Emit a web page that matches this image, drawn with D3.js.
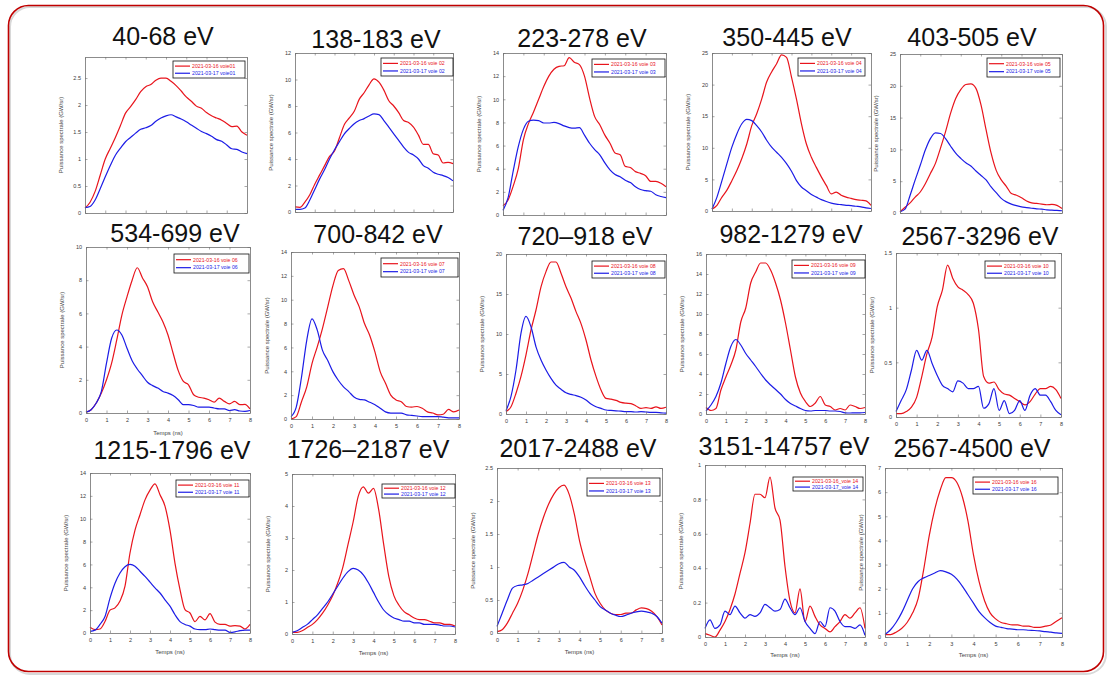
<!DOCTYPE html>
<html>
<head>
<meta charset="utf-8">
<script src="https://cdn.jsdelivr.net/npm/d3@7"></script>
<style>
  body { margin: 0; background: #fff; }
  svg { display: block; }
</style>
</head>
<body>
<div id="chart"></div>
<script>
// time grid (ns), shared by every channel
var times = [0, 0.25, 0.5, 0.75, 1, 1.25, 1.5, 1.75, 2, 2.25, 2.5, 2.75, 3, 3.25, 3.5, 3.75,
             4, 4.25, 4.5, 4.75, 5, 5.25, 5.5, 5.75, 6, 6.25, 6.5, 6.75, 7, 7.25, 7.5, 7.75, 8];
var xTicks = [0, 1, 2, 3, 4, 5, 6, 7, 8];

var titles = ['40-68 eV', '138-183 eV', '223-278 eV', '350-445 eV', '403-505 eV',
              '534-699 eV', '700-842 eV', '720\u2013918 eV', '982-1279 eV', '2567-3296 eV',
              '1215-1796 eV', '1726\u20132187 eV', '2017-2488 eV', '3151-14757 eV', '2567-4500 eV'];
var voies = ['voie01', 'voie 02', 'voie 03', 'voie 04', 'voie 05', 'voie 06', 'voie 07', 'voie 08',
             'voie 09', 'voie 10', 'voie 11', 'voie 12', 'voie 13', '_voie 14', 'voie 16'];
var dates = ['2021-03-16', '2021-03-17'];
var yMax = [2.89, 12, 14, 25, 25, 10, 14, 20, 16, 1.5, 14, 5, 2.5, 1, 7];
var yStep = [0.5, 2, 2, 5, 5, 2, 2, 5, 2, 0.5, 2, 1, 0.5, 0.2, 1];

// 2021-03-16 (red) and 2021-03-17 (blue), GW/sr
var red01 = [0.09,0.2,0.4,0.7,1.0,1.2,1.4,1.62,1.85,1.97,2.1,2.25,2.34,2.38,2.46,2.5,2.5,2.44,2.36,2.26,2.15,2.07,1.98,1.94,1.86,1.8,1.76,1.72,1.66,1.6,1.61,1.5,1.44];
var blue01 = [0.1,0.12,0.24,0.45,0.67,0.88,1.07,1.2,1.32,1.4,1.48,1.55,1.58,1.62,1.7,1.76,1.8,1.82,1.78,1.74,1.69,1.63,1.57,1.51,1.47,1.42,1.36,1.33,1.26,1.19,1.18,1.13,1.1];
var red02 = [0.38,0.35,0.75,1.3,2.1,2.8,3.5,4.2,4.6,5.6,6.6,7.1,7.6,8.5,9.0,9.6,10.05,9.8,9.2,8.4,8.0,7.5,6.9,6.75,6.4,5.8,5.1,5.1,4.4,4.3,3.7,3.75,3.65];
var blue02 = [0.2,0.2,0.3,0.9,1.7,2.5,3.2,4.0,4.7,5.3,5.9,6.3,6.66,6.9,7.05,7.25,7.4,7.35,6.9,6.4,5.9,5.4,4.9,4.5,4.3,4.0,3.5,3.3,3.0,2.85,2.75,2.6,2.35];
var red03 = [0.8,1.3,2.5,4.0,6.5,7.9,8.9,10.0,11.1,12.0,12.6,12.85,12.9,13.6,13.2,13.0,12.0,10.1,8.5,7.8,6.9,6.2,5.35,5.2,4.2,4.1,3.75,3.6,3.4,2.9,2.9,2.75,2.45];
var blue03 = [0.4,1.5,3.8,5.9,7.4,8.1,8.2,8.15,7.95,7.95,8.0,7.9,7.7,7.55,7.5,7.55,6.9,6.2,5.65,5.2,4.5,3.9,3.5,3.3,3.0,2.8,2.45,2.2,2.1,2.05,1.75,1.6,1.5];
var red04 = [0.3,0.9,2.2,3.3,4.8,6.4,8.3,10.6,13.5,15.4,17.7,20.4,22.0,23.3,24.7,24.3,21.2,17.7,13.8,10.6,8.5,6.9,5.4,4.05,2.7,3.0,2.5,2.2,2.0,1.8,1.7,1.6,0.9];
var blue04 = [0.3,2.2,4.8,7.5,10.1,12.2,13.8,14.5,14.3,13.5,12.5,11.2,10.1,9.3,8.5,7.5,6.3,4.8,3.8,3.2,2.6,2.2,1.8,1.5,1.25,1.1,1.0,0.9,0.85,0.75,0.65,0.5,0.4];
var red05 = [0.2,0.9,1.6,2.5,3.3,4.6,6.2,7.8,10.2,12.8,15.7,18.0,19.4,20.2,20.3,19.6,17.0,13.1,9.4,6.7,5.2,4.2,3.05,2.8,2.4,1.9,1.6,1.5,1.4,1.3,1.35,1.2,0.7];
var blue05 = [0.2,0.6,2.8,5.2,7.5,9.9,11.7,12.6,12.5,11.7,10.5,9.4,8.6,7.9,7.4,6.6,5.9,5.2,4.1,3.2,2.3,1.75,1.4,1.15,0.95,0.85,0.75,0.65,0.6,0.5,0.45,0.4,0.35];
var red06 = [0.05,0.2,0.6,1.2,2.0,3.0,4.4,5.9,7.0,8.0,8.75,8.15,7.6,6.7,6.1,5.5,4.7,3.6,2.55,1.9,1.7,1.1,0.95,0.9,0.8,0.65,0.9,0.7,0.55,0.7,0.5,0.52,0.25];
var blue06 = [0.05,0.2,0.6,1.3,3.0,4.5,5.0,4.7,3.9,3.15,2.65,2.25,1.85,1.65,1.5,1.3,1.2,1.05,0.8,0.5,0.5,0.45,0.35,0.35,0.35,0.3,0.25,0.25,0.15,0.2,0.12,0.1,0.15];
var red07 = [0.0,0.2,1.45,2.7,4.65,6.05,7.6,9.4,11.2,12.45,12.6,11.6,10.4,9.4,8.0,7.0,5.6,3.95,3.0,2.0,1.6,1.45,1.05,1.0,1.05,0.9,0.6,0.5,0.35,0.4,0.8,0.6,0.75];
var blue07 = [0.2,1.0,3.5,6.6,8.4,7.45,5.75,4.9,3.95,3.25,2.7,2.3,1.85,1.65,1.6,1.4,1.2,0.9,0.6,0.5,0.5,0.5,0.35,0.3,0.25,0.2,0.2,0.2,0.2,0.15,0.1,0.1,0.1];
var red08 = [0.3,0.9,2.6,4.7,7.4,10.5,13.0,15.9,17.8,19.0,19.0,17.6,15.9,14.5,12.8,11.3,9.25,6.75,4.7,3.0,1.95,1.85,1.7,1.45,1.35,1.3,1.0,0.7,0.8,0.7,0.9,0.7,0.85];
var blue08 = [0.4,2.2,5.5,10.1,12.2,10.9,8.4,6.75,5.5,4.45,3.6,3.1,2.65,2.45,2.3,2.1,1.75,1.25,0.9,0.7,0.5,0.45,0.4,0.35,0.3,0.3,0.25,0.3,0.25,0.2,0.2,0.15,0.1];
var red09 = [0.65,0.35,0.55,2.4,3.7,4.9,6.4,9.2,10.6,13.1,14.2,15.1,15.1,14.4,13.1,11.4,9.1,6.4,3.7,2.1,1.25,0.75,1.1,1.75,0.9,0.75,0.4,0.55,0.4,0.9,0.75,0.55,0.65];
var blue09 = [0.3,0.9,1.75,3.1,5.05,6.75,7.45,6.9,6.05,5.4,4.75,4.05,3.4,2.9,2.45,2.0,1.45,1.05,0.8,0.55,0.35,0.3,0.35,0.35,0.35,0.3,0.3,0.25,0.12,0.1,0.12,0.12,0.15];
var red10 = [0.03,0.03,0.05,0.09,0.18,0.37,0.58,0.73,1.01,1.16,1.39,1.27,1.19,1.16,1.12,1.04,0.8,0.37,0.31,0.32,0.25,0.21,0.2,0.17,0.14,0.11,0.14,0.21,0.26,0.26,0.28,0.25,0.17];
var blue10 = [0.05,0.15,0.25,0.43,0.61,0.52,0.61,0.49,0.38,0.29,0.26,0.23,0.33,0.31,0.26,0.26,0.28,0.08,0.12,0.26,0.06,0.15,0.03,0.06,0.15,0.06,0.2,0.26,0.2,0.2,0.14,0.06,0.02];
var red11 = [0.5,0.3,0.35,1.0,2.0,2.2,2.8,4.1,7.0,9.0,10.35,11.65,12.5,13.05,12.1,11.1,9.0,6.1,3.8,2.05,1.75,1.0,1.45,1.15,1.7,0.95,0.75,0.75,0.6,0.65,0.6,0.35,0.75];
var blue11 = [0.15,0.25,0.75,1.45,3.05,4.35,5.25,5.8,6.0,5.85,5.4,4.95,4.45,3.95,3.5,2.9,2.35,1.6,1.0,0.75,0.6,0.35,0.3,0.3,0.35,0.3,0.25,0.25,0.05,0.1,0.2,0.25,0.25];
var red12 = [0.05,0.05,0.1,0.2,0.3,0.45,0.65,0.9,1.2,1.6,2.1,2.8,3.5,4.3,4.6,4.4,4.55,3.9,2.8,1.8,1.2,0.9,0.7,0.6,0.5,0.45,0.45,0.4,0.35,0.35,0.3,0.3,0.25];
var blue12 = [0.05,0.1,0.2,0.3,0.45,0.6,0.8,1.0,1.25,1.5,1.75,1.95,2.05,2.0,1.85,1.6,1.3,1.0,0.75,0.6,0.5,0.45,0.4,0.4,0.35,0.35,0.3,0.3,0.3,0.28,0.25,0.25,0.22];
var red13 = [0.02,0.05,0.15,0.3,0.45,0.65,0.9,1.2,1.5,1.75,1.95,2.1,2.2,2.24,2.1,1.8,1.4,1.1,0.85,0.6,0.45,0.35,0.3,0.28,0.28,0.3,0.3,0.35,0.38,0.37,0.33,0.25,0.12];
var blue13 = [0.1,0.3,0.5,0.68,0.72,0.73,0.75,0.8,0.85,0.9,0.95,1.0,1.05,1.07,1.0,0.95,0.85,0.72,0.6,0.5,0.4,0.35,0.3,0.27,0.25,0.27,0.3,0.32,0.33,0.32,0.3,0.25,0.15];
var red14 = [0.02,0.01,0.0,0.04,0.09,0.16,0.25,0.37,0.49,0.66,0.83,0.83,0.81,0.93,0.75,0.68,0.41,0.21,0.14,0.28,0.09,0.18,0.12,0.07,0.05,0.03,0.06,0.09,0.13,0.11,0.14,0.17,0.05];
var blue14 = [0.05,0.1,0.05,0.07,0.15,0.13,0.18,0.14,0.11,0.13,0.12,0.14,0.19,0.17,0.15,0.16,0.22,0.17,0.13,0.17,0.09,0.05,0.02,0.09,0.06,0.17,0.15,0.09,0.06,0.06,0.05,0.07,0.01];
var red16 = [0.1,0.1,0.2,0.35,0.6,1.0,1.6,2.8,4.2,5.3,6.1,6.6,6.6,6.4,5.8,4.8,3.4,2.3,1.5,1.0,0.75,0.6,0.55,0.5,0.5,0.45,0.45,0.4,0.4,0.45,0.5,0.65,0.8];
var blue16 = [0.1,0.3,0.6,1.0,1.5,2.0,2.3,2.45,2.55,2.65,2.75,2.7,2.6,2.4,2.1,1.75,1.4,1.05,0.8,0.6,0.45,0.4,0.35,0.33,0.3,0.3,0.28,0.27,0.25,0.22,0.2,0.17,0.15];

var reds = [red01, red02, red03, red04, red05, red06, red07, red08, red09, red10, red11, red12, red13, red14, red16];
var blues = [blue01, blue02, blue03, blue04, blue05, blue06, blue07, blue08, blue09, blue10, blue11, blue12, blue13, blue14, blue16];

// layout of each cropped screenshot: plot box, legend box, title anchor
var layout = [
  { box: [85, 57, 247, 213],   leg: [173, 61, 245, 78],   title: [163, 45] },
  { box: [295, 53, 453, 212],  leg: [381, 58, 453, 76],   title: [376, 48] },
  { box: [503, 53, 666, 215],  leg: [592, 59, 665, 77],   title: [582, 47] },
  { box: [712, 53, 871, 211],  leg: [798, 58, 865, 76],   title: [787, 46] },
  { box: [900, 54, 1062, 213], leg: [987, 58, 1060, 77],  title: [972, 46] },
  { box: [86, 247, 250, 413],  leg: [174, 254, 249, 273], title: [175, 242], xl: true, temps: 435 },
  { box: [291, 252, 459, 419], leg: [381, 258, 458, 277], title: [378, 243], xl: true },
  { box: [506, 254, 666, 414], leg: [592, 261, 665, 278], title: [585, 245], xl: true },
  { box: [706, 254, 865, 414], leg: [792, 260, 865, 278], title: [791, 243], xl: true },
  { box: [896, 253, 1061, 417], leg: [985, 261, 1055, 278], title: [980, 245], xl: true },
  { box: [90, 473, 250, 633],  leg: [176, 480, 249, 497], title: [172, 459], xl: true, temps: 654 },
  { box: [292, 474, 455, 634], leg: [382, 484, 455, 498], title: [368, 458], xl: true, temps: 655 },
  { box: [497, 468, 662, 633], leg: [587, 478, 660, 496], title: [578, 457], xl: true, temps: 654 },
  { box: [705, 465, 865, 637], leg: [793, 477, 863, 491], title: [784, 455], xl: true, temps: 657 },
  { box: [885, 468, 1062, 637], leg: [973, 477, 1058, 494], title: [972, 457], xl: true, temps: 657 }
];

var width = 1112, height = 678;
var redColor = '#e8141c', blueColor = '#1c1ce6', axisColor = '#6e6e6e';
var font = "'Liberation Sans', Arial, Helvetica, sans-serif";

var svg = d3.select('#chart').append('svg')
  .attr('width', width)
  .attr('height', height);

svg.append('rect').attr('width', width).attr('height', height).attr('fill', '#fff');

function styleAxis(sel) {
  sel.select('.domain').attr('stroke', axisColor).attr('stroke-width', 0.8);
  sel.selectAll('.tick line').attr('stroke', axisColor).attr('stroke-width', 0.6);
  sel.selectAll('.tick text').attr('fill', '#3a3a3a')
    .style('font-size', '5.5px').style('font-family', font);
}

layout.forEach(function(p, i) {
  var b = p.box;
  var x = d3.scaleLinear().domain([0, 8]).range([b[0], b[2]]);
  var y = d3.scaleLinear().domain([0, yMax[i]]).range([b[3], b[1]]);
  var yTicks = d3.range(0, yMax[i] + 1e-9, yStep[i]).map(function(v) { return +v.toFixed(3); });
  var g = svg.append('g');

  g.append('rect')
    .attr('x', b[0]).attr('y', b[1])
    .attr('width', b[2] - b[0]).attr('height', b[3] - b[1])
    .attr('fill', '#fff');

  // series
  var line = d3.line()
    .x(function(d, k) { return x(times[k]); })
    .y(function(d) { return y(d); })
    .curve(d3.curveMonotoneX);

  g.append('path').datum(reds[i])
    .attr('d', line).attr('fill', 'none')
    .attr('stroke', redColor).attr('stroke-width', 1.2);
  g.append('path').datum(blues[i])
    .attr('d', line).attr('fill', 'none')
    .attr('stroke', blueColor).attr('stroke-width', 1.2);

  // box axes, ticks pointing inward
  var fmt = d3.format('~g');
  g.append('g').attr('transform', 'translate(' + b[0] + ',0)')
    .call(d3.axisLeft(y).tickValues(yTicks).tickFormat(fmt).tickSizeInner(-2.5).tickSizeOuter(0).tickPadding(4))
    .call(styleAxis);
  g.append('g').attr('transform', 'translate(' + b[2] + ',0)')
    .call(d3.axisRight(y).tickValues(yTicks).tickFormat('').tickSizeInner(-2.5).tickSizeOuter(0))
    .call(styleAxis);
  g.append('g').attr('transform', 'translate(0,' + b[3] + ')')
    .call(d3.axisBottom(x).tickValues(xTicks).tickFormat(p.xl ? fmt : '').tickSizeInner(-2.5).tickSizeOuter(0).tickPadding(5))
    .call(styleAxis);
  g.append('g').attr('transform', 'translate(0,' + b[1] + ')')
    .call(d3.axisTop(x).tickValues(xTicks).tickFormat('').tickSizeInner(-2.5).tickSizeOuter(0))
    .call(styleAxis);

  // y label
  g.append('text')
    .attr('transform', 'translate(' + (b[0] - 22) + ',' + ((b[1] + b[3]) / 2) + ') rotate(-90)')
    .attr('text-anchor', 'middle')
    .attr('fill', '#444')
    .style('font-size', '6px').style('font-family', font)
    .text('Puissance spectrale (GW/sr)');

  if (p.temps) {
    g.append('text')
      .attr('x', (b[0] + b[2]) / 2).attr('y', p.temps)
      .attr('text-anchor', 'middle').attr('fill', '#444')
      .style('font-size', '6px').style('font-family', font)
      .text('Temps (ns)');
  }

  // legend
  var l = p.leg, lh = l[3] - l[1];
  g.append('rect')
    .attr('x', l[0]).attr('y', l[1])
    .attr('width', l[2] - l[0]).attr('height', lh)
    .attr('fill', '#fff').attr('stroke', '#111').attr('stroke-width', 0.8);
  [redColor, blueColor].forEach(function(c, k) {
    var ly = l[1] + lh * (k === 0 ? 0.3 : 0.72);
    g.append('line')
      .attr('x1', l[0] + 2).attr('x2', l[0] + 17)
      .attr('y1', ly).attr('y2', ly)
      .attr('stroke', c).attr('stroke-width', 1.2);
    g.append('text')
      .attr('x', l[0] + 19).attr('y', ly + 1.8)
      .attr('fill', c)
      .style('font-size', '5.2px').style('font-family', font)
      .text(dates[k] + (voies[i].charAt(0) === '_' ? '' : ' ') + voies[i]);
  });

  // energy band title
  g.append('text')
    .attr('x', p.title[0]).attr('y', p.title[1])
    .attr('text-anchor', 'middle').attr('fill', '#111')
    .style('font-size', '25px').style('font-family', font)
    .text(titles[i]);
});

// slide frame
svg.append('rect')
  .attr('x', 10).attr('y', 7).attr('width', 1096).attr('height', 667).attr('rx', 20)
  .attr('fill', 'none').attr('stroke', '#d8d8d8').attr('stroke-width', 2);
svg.append('rect')
  .attr('x', 8.5).attr('y', 5.5).attr('width', 1095).attr('height', 666).attr('rx', 20)
  .attr('fill', 'none').attr('stroke', '#c00000').attr('stroke-width', 1.6);
</script>
</body>
</html>
